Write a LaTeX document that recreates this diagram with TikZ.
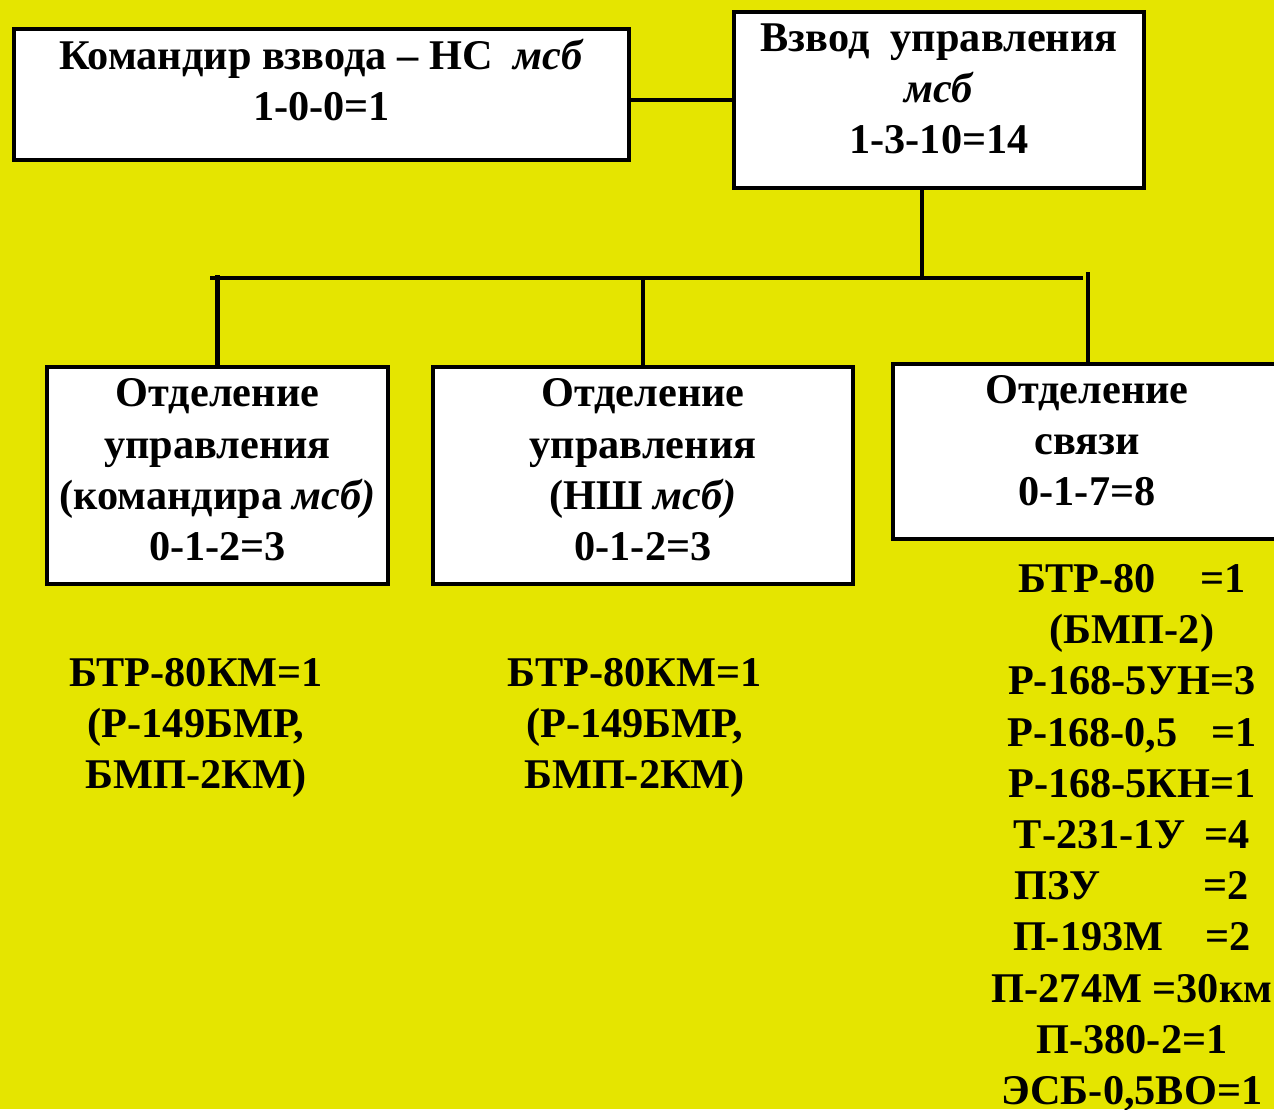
\documentclass[tikz,border=0pt]{standalone}
\usepackage{fontspec}
\setmainfont{Liberation Serif}
\definecolor{bg}{RGB}{229,229,0}
\begin{document}
\begin{tikzpicture}[x=1pt,y=-1pt,
  box/.style={draw=black,line width=4.8pt,fill=white,rectangle,inner sep=0pt},
  txt/.style={font=\fontsize{42.3}{51.2}\selectfont\bfseries,align=center,anchor=base,inner sep=0pt},
  conn/.style={line width=4.8pt}]
\fill[bg] (0,0) rectangle (1274,1109);
\clip (0,0) rectangle (1274,1109);
% boxes
\node[box,minimum width=615pt,minimum height=131pt] (b1) at (321.5,94.5) {};
\node[box,minimum width=410pt,minimum height=176pt] (b2) at (939,100) {};
\node[box,minimum width=341pt,minimum height=217pt] (b3) at (217.5,475.5) {};
\node[box,minimum width=420pt,minimum height=217pt] (b4) at (643,475.5) {};
\node[box,minimum width=390pt,minimum height=175pt] (b5) at (1088,451.5) {};
% box texts (anchor = baseline of last line)
\node[txt] (t1) at (321.5,120.5) {Командир взвода – НС\ \ \textit{мсб}\\1-0-0=1};
\node[txt] (t2) at (939,153.5) {Взвод\ \ управления\\\textit{мсб}\\1-3-10=14};
\node[txt] (t3) at (217.5,560.5) {Отделение\\управления\\(командира \textit{мсб)}\\0-1-2=3};
\node[txt] (t4) at (643,560.5) {Отделение\\управления\\(НШ \textit{мсб)}\\0-1-2=3};
\node[txt] (t5) at (1087,505.5) {Отделение\\связи\\0-1-7=8};
% equipment lists
\node[txt] (l1) at (196,788.5) {БТР-80КМ=1\\(Р-149БМР,\\БМП-2КМ)};
\node[txt] (l2) at (634.5,788.5) {БТР-80КМ=1\\(Р-149БМР,\\БМП-2КМ)};
\node[txt] (l3) at (1132,1104.5) {БТР-80\hspace{1.05em}=1\\(БМП-2)\\Р-168-5УН=3\\Р-168-0,5\hspace{0.8em}=1\\Р-168-5КН=1\\Т-231-1У\hspace{0.45em}=4\\ПЗУ\hspace{2.45em}=2\\П-193М\hspace{1.0em}=2\\П-274М =30км\\П-380-2=1\\ЭСБ-0,5ВО=1};
% connectors
\coordinate (busL) at (210,278);
\coordinate (busR) at (1083,278);
\draw[conn] (b1.east |- b2.west) -- (b2.west);
\draw[conn] ([xshift=-17pt]b2.south) -- ([xshift=-17pt]b2.south |- busL);
\draw[conn] (busL) -- (busR);
\draw[conn] (b3.north) -- ([yshift=3pt]b3.north |- busL);
\draw[conn] (b4.north) -- (b4.north |- busL);
\draw[conn] (b5.north) -- ([yshift=6pt]b5.north |- busR);
\end{tikzpicture}
\end{document}
